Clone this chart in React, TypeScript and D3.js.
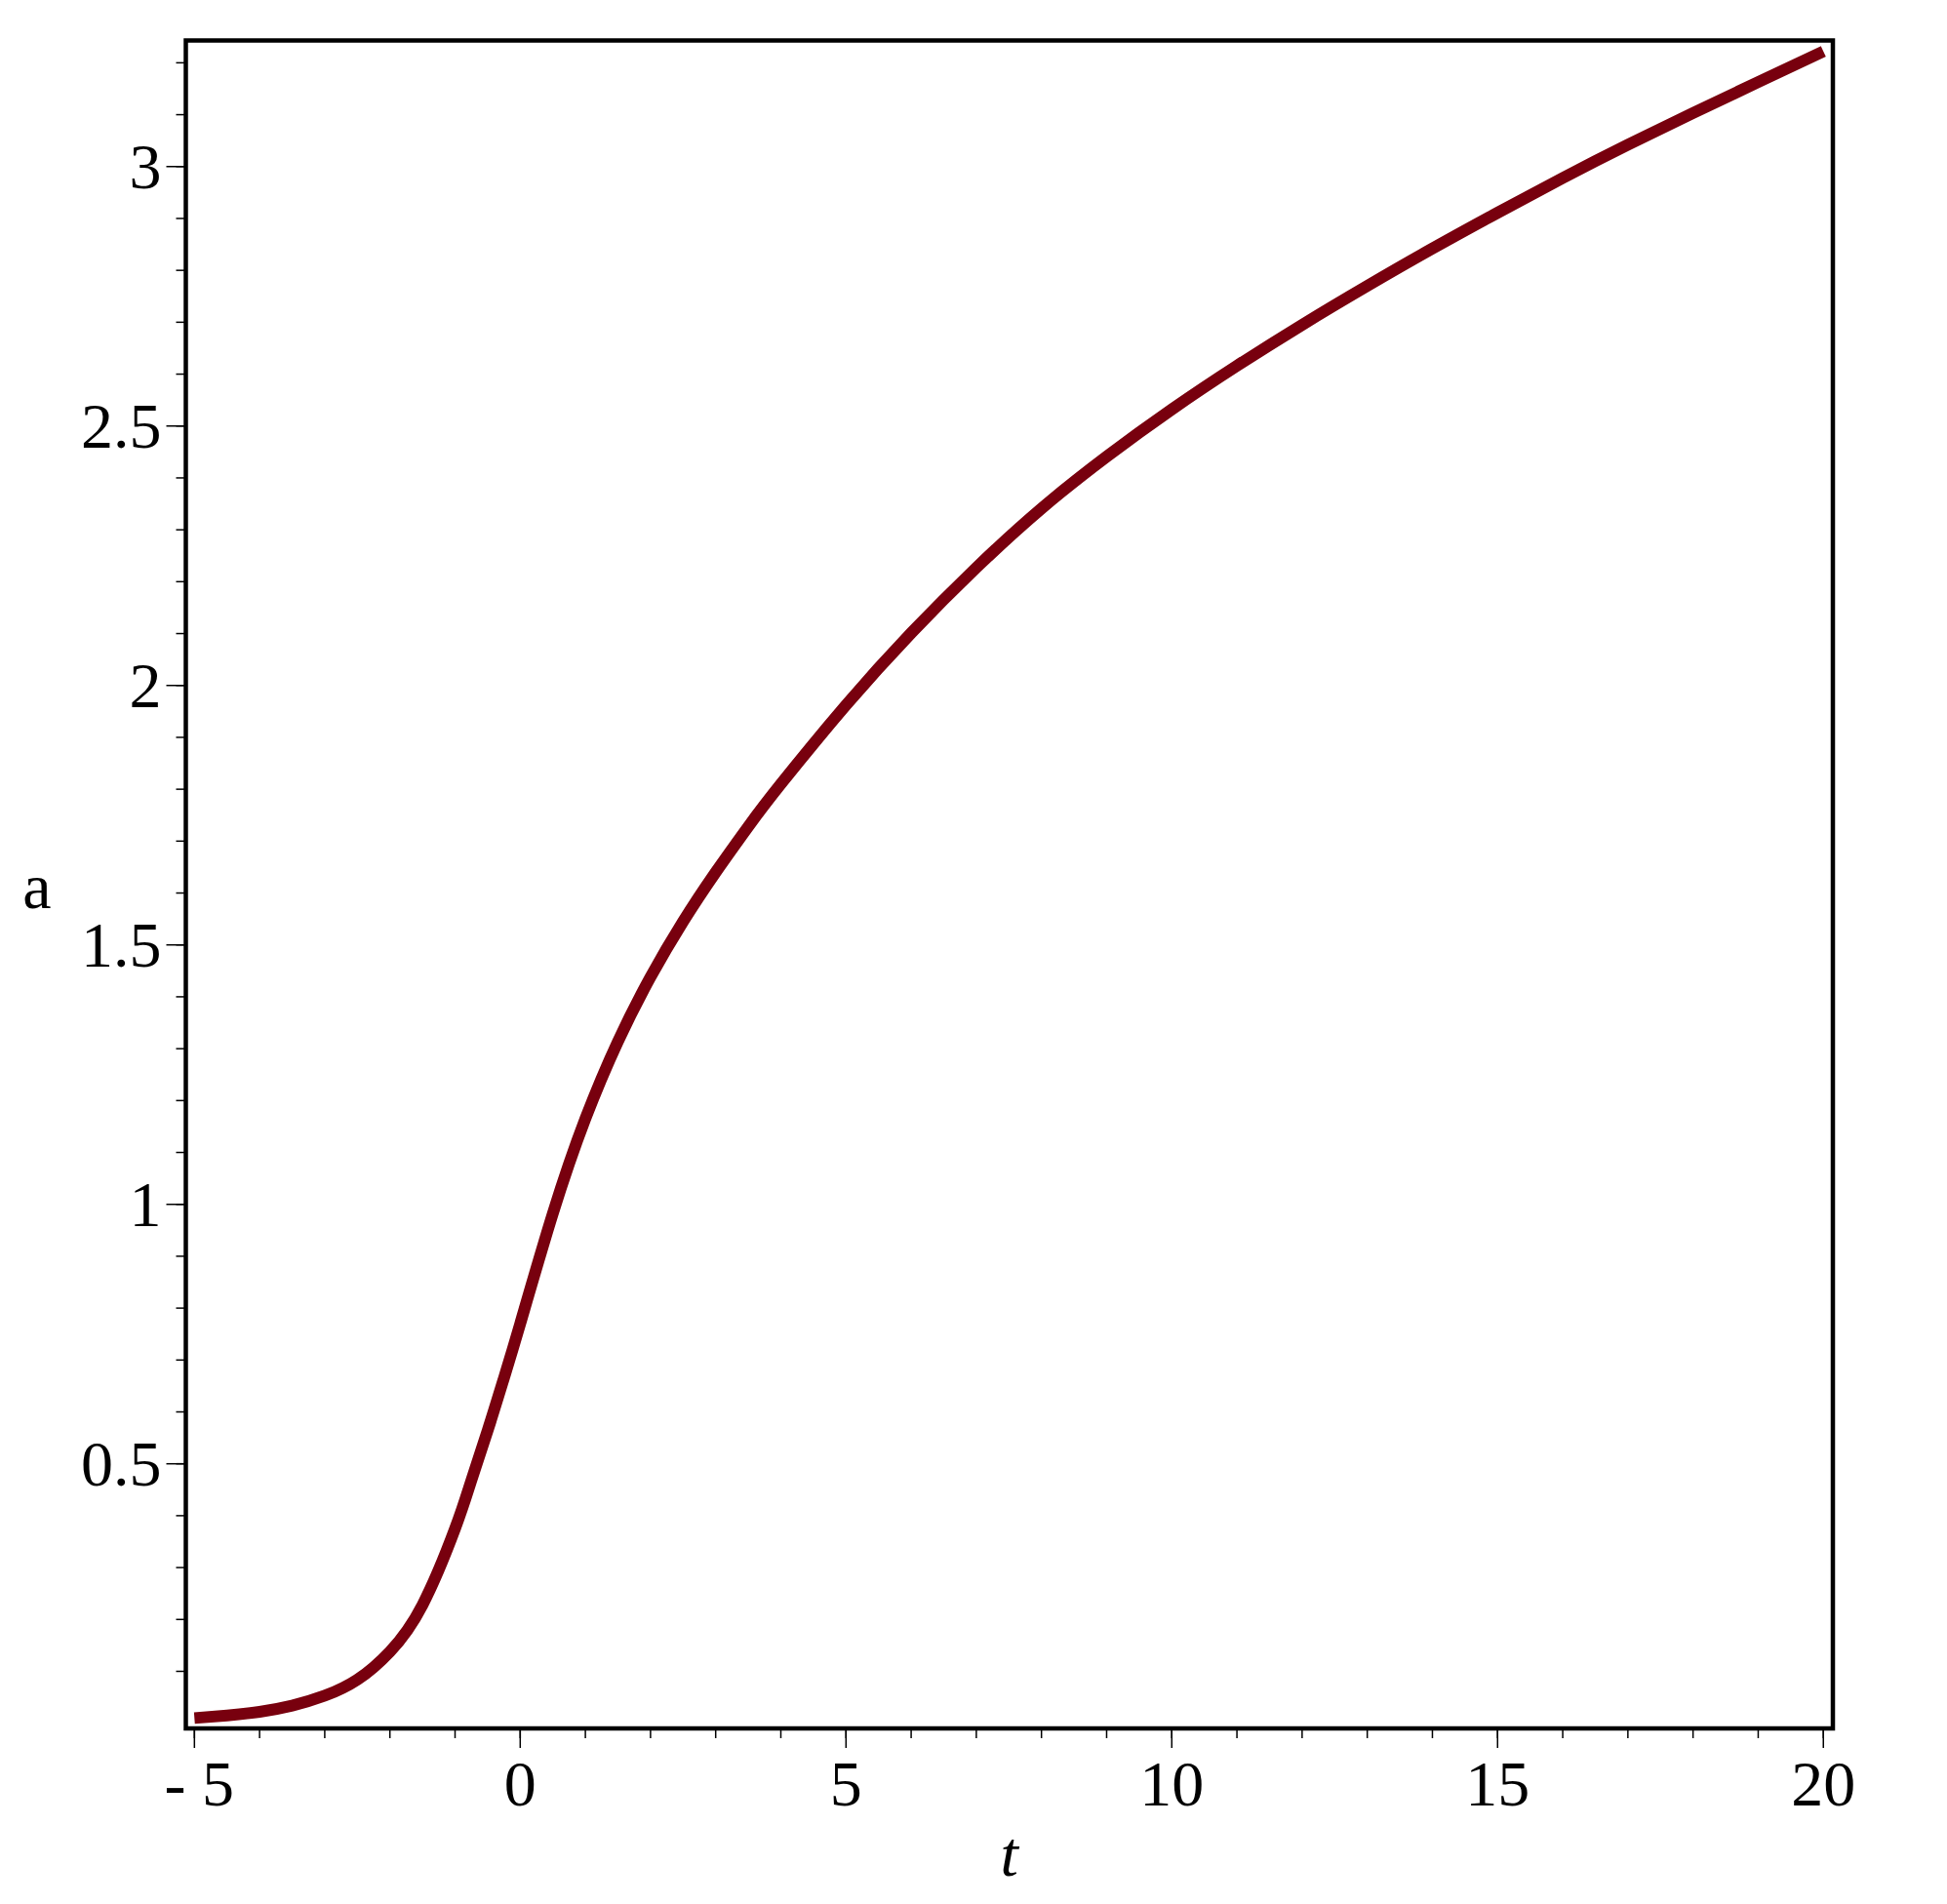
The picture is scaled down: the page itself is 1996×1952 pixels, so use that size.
import React from "react";
import * as d3 from "d3";

// ---- data ----
const tValues = [-5, -4.5, -4, -3.5, -3, -2.5, -2, -1.5, -1, -0.75, -0.5, -0.25, 0, 0.5, 1, 1.5, 2, 2.5, 3, 3.5, 4, 5, 6, 7, 8, 9, 10, 11, 12, 13, 14, 15, 16, 17, 18, 19, 20];
const aValues = [0.010, 0.015, 0.022, 0.034, 0.053, 0.084, 0.138, 0.228, 0.375, 0.468, 0.564, 0.665, 0.770, 0.982, 1.165, 1.314, 1.438, 1.545, 1.640, 1.728, 1.810, 1.962, 2.101, 2.227, 2.341, 2.441, 2.532, 2.616, 2.695, 2.770, 2.842, 2.911, 2.978, 3.042, 3.103, 3.163, 3.222];

const xMajorTicks = [-5, 0, 5, 10, 15, 20];
const xMinorTicks = d3.range(-5, 20.5, 1);
const yMajorTicks = [0.5, 1, 1.5, 2, 2.5, 3];
const yMinorTicks = d3.range(1, 33).map((i) => i / 10);

const xDomain = [-5.132, 20.146];
const yDomain = [-0.010, 3.243];

const xLabel = "t";
const yLabel = "a";

const W = 1996;
const H = 1952;
const frame = { left: 190.5, right: 1879, top: 41.5, bottom: 1772 };
const curveColor = "#78000E";
const font = "'Liberation Serif', 'Times New Roman', serif";

export default function App() {
  const x = d3.scaleLinear().domain(xDomain).range([frame.left, frame.right]);
  const y = d3.scaleLinear().domain(yDomain).range([frame.bottom, frame.top]);

  const pts = tValues.map((t, i) => [t, aValues[i]] as [number, number]);
  const line = d3
    .line<[number, number]>()
    .x((d) => x(d[0]))
    .y((d) => y(d[1]))
    .curve(d3.curveNatural);

  const fmtX = (d: number) => (d < 0 ? `- ${Math.abs(d)}` : `${d}`);

  return (
    <svg
      width={W}
      height={H}
      style={{ position: "absolute", left: 0, top: 0, background: "#fff" }}
    >
      <rect x={0} y={0} width={W} height={H} fill="#fff" />
      {/* x ticks */}
      {xMinorTicks.map((t) => (
        <line key={"xm" + t} x1={x(t)} x2={x(t)} y1={frame.bottom} y2={frame.bottom + 10} stroke="#000" strokeWidth={1.5} />
      ))}
      {xMajorTicks.map((t) => (
        <line key={"xM" + t} x1={x(t)} x2={x(t)} y1={frame.bottom} y2={frame.bottom + 20} stroke="#000" strokeWidth={1.5} />
      ))}
      {xMajorTicks.map((t) => (
        <text
          key={"xl" + t}
          x={x(t) + (t < 0 ? 5 : 0)}
          y={frame.bottom + 79}
          textAnchor="middle"
          fontFamily={font}
          fontSize={66}
          fill="#000"
        >
          {fmtX(t)}
        </text>
      ))}
      {/* y ticks */}
      {yMinorTicks.map((v) => (
        <line key={"ym" + v} x1={frame.left - 10} x2={frame.left} y1={y(v)} y2={y(v)} stroke="#000" strokeWidth={1.5} />
      ))}
      {yMajorTicks.map((v) => (
        <line key={"yM" + v} x1={frame.left - 20} x2={frame.left} y1={y(v)} y2={y(v)} stroke="#000" strokeWidth={1.5} />
      ))}
      {yMajorTicks.map((v) => (
        <text
          key={"yl" + v}
          x={frame.left - 25}
          y={y(v) + 22}
          textAnchor="end"
          fontFamily={font}
          fontSize={66}
          fill="#000"
        >
          {String(v)}
        </text>
      ))}
      {/* curve */}
      <path d={line(pts) || ""} fill="none" stroke={curveColor} strokeWidth={12} strokeLinecap="butt" strokeLinejoin="round" />
      {/* frame */}
      <rect
        x={frame.left}
        y={frame.top}
        width={frame.right - frame.left}
        height={frame.bottom - frame.top}
        fill="none"
        stroke="#000"
        strokeWidth={4.5}
      />
      {/* axis labels */}
      <text x={(frame.left + frame.right) / 2} y={1923} textAnchor="middle" fontFamily={font} fontSize={66} fontStyle="italic" fill="#000">
        {xLabel}
      </text>
      <text x={38} y={931} textAnchor="middle" fontFamily={font} fontSize={66} fill="#000">
        {yLabel}
      </text>
    </svg>
  );
}
